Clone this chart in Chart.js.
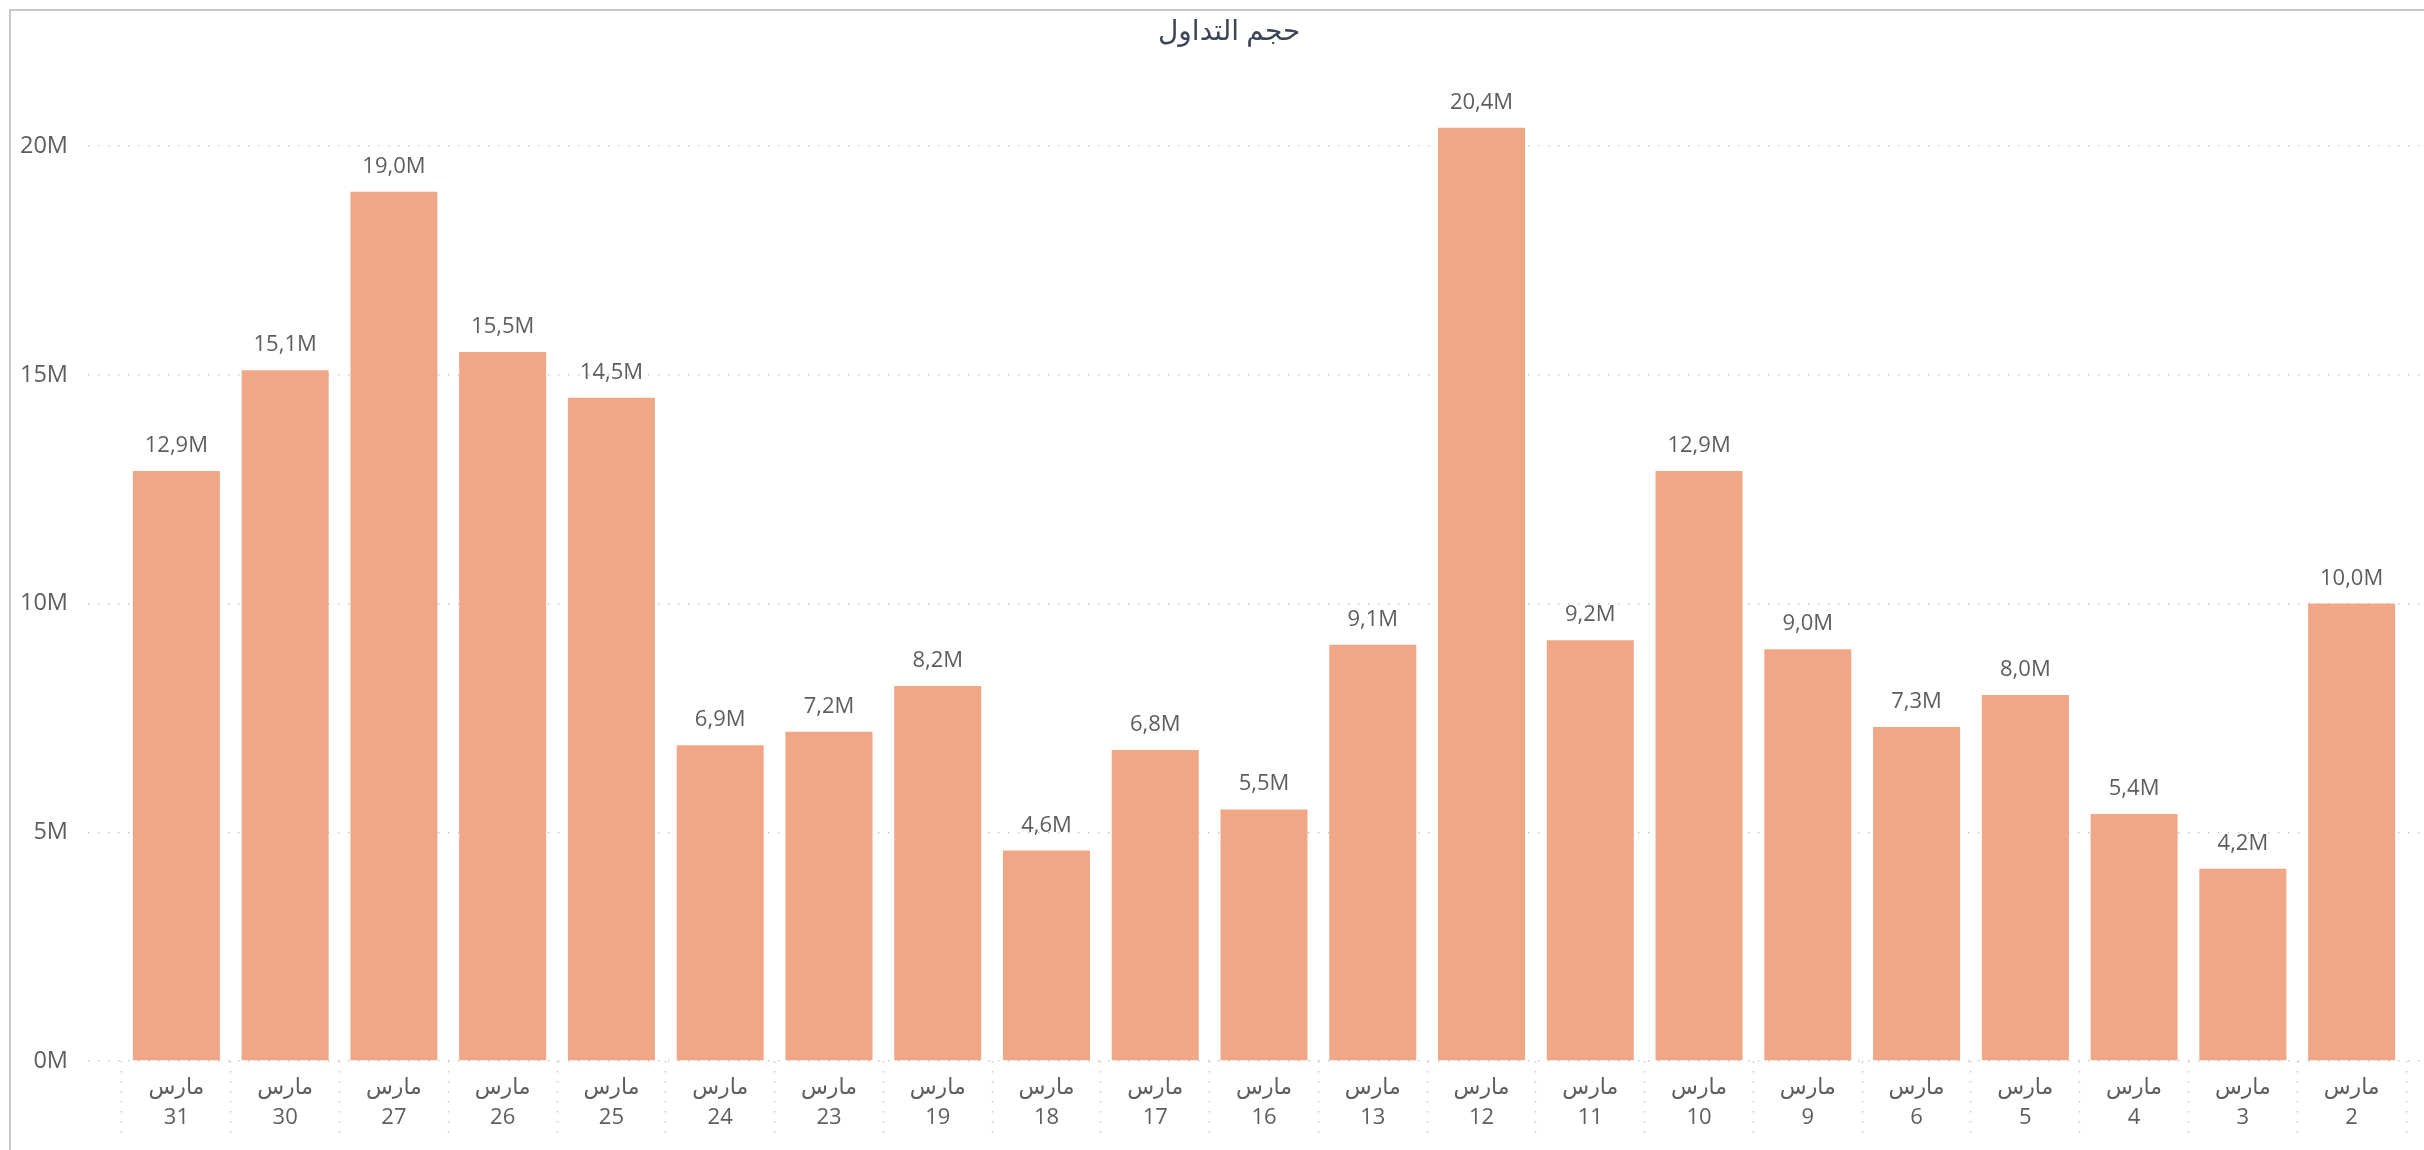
<!DOCTYPE html>
<html>
<head>
<meta charset="utf-8">
<script src="https://cdn.jsdelivr.net/npm/chart.js@4.4.1/dist/chart.umd.min.js"></script>
<style>
  html, body { margin: 0; padding: 0; background: #ffffff; }
  #wrap { position: relative; width: 2424px; height: 1150px; overflow: hidden; }
  #frame { position: absolute; left: 9px; top: 9px; right: -10px; bottom: -10px; border-left: 2px solid #c8c8c8; border-top: 2px solid #c8c8c8; }
  canvas { position: absolute; left: 0; top: 0; }
</style>
</head>
<body>
<div id="wrap">
  <div id="frame"></div>
  <canvas id="c" width="2424" height="1150"></canvas>
</div>
<script>
const chartTitle = 'حجم التداول';
const monthName = 'مارس';
const days = ['31','30','27','26','25','24','23','19','18','17','16','13','12','11','10','9','6','5','4','3','2'];
const volumes = [12.9, 15.1, 19.0, 15.5, 14.5, 6.9, 7.2, 8.2, 4.6, 6.8, 5.5, 9.1, 20.4, 9.2, 12.9, 9.0, 7.3, 8.0, 5.4, 4.2, 10.0]; // millions
const yTicks = [0, 5, 10, 15, 20]; // millions

const FONT = "'Segoe UI', 'Open Sans', 'DejaVu Sans', sans-serif";
const GRID = '#c8c8c8';
const TEXT = '#605e5c';

const points = volumes.map((v, i) => ({ x: i, y: v * 1e6 }));

const valueLabels = {
  id: 'valueLabels',
  afterDatasetsDraw(chart) {
    const ctx = chart.ctx;
    const meta = chart.getDatasetMeta(0);
    ctx.save();
    ctx.font = '22px ' + FONT;
    ctx.fillStyle = TEXT;
    ctx.textAlign = 'center';
    ctx.textBaseline = 'alphabetic';
    meta.data.forEach((bar, i) => {
      ctx.fillText(volumes[i].toFixed(1).replace('.', ',') + 'M', bar.x, bar.y - 19);
    });
    ctx.restore();
  }
};

new Chart(document.getElementById('c'), {
  type: 'bar',
  data: {
    datasets: [{
      data: points,
      backgroundColor: '#EFA786',
      borderWidth: 0,
      barPercentage: 1.6,
      categoryPercentage: 1.0
    }]
  },
  options: {
    responsive: false,
    animation: false,
    layout: { padding: { left: 0, right: 2, top: 0, bottom: 0 } },
    plugins: {
      legend: { display: false },
      tooltip: { enabled: false },
      title: {
        display: true,
        text: '     ' + chartTitle,
        color: '#3b4658',
        font: { family: FONT, size: 28, weight: 'normal', lineHeight: 1.2 },
        padding: { top: 15, bottom: 6 }
      }
    },
    scales: {
      x: {
        type: 'linear',
        offset: false,
        min: -0.8126,
        max: 20.647,
        afterBuildTicks(scale) {
          const t = [];
          for (let k = -1; k <= 41; k++) t.push({ value: k / 2 });
          scale.ticks = t;
        },
        afterFit(scale) { scale.height = 89; },
        grid: {
          display: true,
          offset: false,
          drawOnChartArea: false,
          drawTicks: true,
          tickLength: 80,
          tickWidth: 1.5,
          tickBorderDash: [1.5, 8.5],
          tickColor: (ctx) => (ctx.tick && Number.isInteger(ctx.tick.value)) ? 'rgba(0,0,0,0)' : GRID
        },
        border: { display: false },
        ticks: {
          autoSkip: false,
          maxRotation: 0,
          minRotation: 0,
          padding: -68,
          color: TEXT,
          font: { family: FONT, size: 22, lineHeight: 30 / 22 },
          callback: (value) => Number.isInteger(value) && value >= 0 && value < days.length ? [monthName, days[value]] : ''
        }
      },
      y: {
        min: 0,
        max: 22e6,
        afterBuildTicks(scale) {
          scale.ticks = yTicks.map(v => ({ value: v * 1e6 }));
        },
        afterFit(scale) { scale.width = 88; },
        grid: {
          color: GRID,
          lineWidth: 1.5,
          drawTicks: false
        },
        border: { display: false, dash: [1.5, 8.5] },
        ticks: {
          padding: 20,
          color: TEXT,
          font: { family: FONT, size: 23.5 },
          callback: (value) => (value / 1e6) + 'M'
        }
      }
    }
  },
  plugins: [valueLabels]
});
</script>
</body>
</html>
